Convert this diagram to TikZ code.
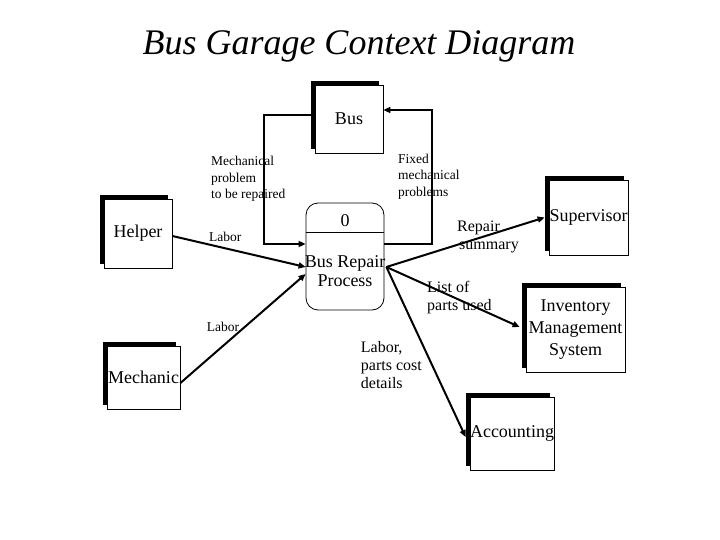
\documentclass[tikz,border=0pt]{standalone}
\usepackage{fontspec}
\setmainfont{Liberation Serif}
\usetikzlibrary{arrows.meta,shadows,calc}
\begin{document}
\begin{tikzpicture}[x=1pt,y=-1pt,
  ent/.style={draw=black, line width=0.8pt, fill=white, inner sep=0pt,
    font=\fontsize{18}{22}\selectfont, align=center,
    general shadow={fill=black, shadow xshift=-4pt, shadow yshift=4pt}},
  flow/.style={line width=2pt, -{Triangle[length=7pt,width=6pt]}},
  lbl/.style={inner sep=0pt, anchor=north west, align=left},
  small/.style={font=\fontsize{13.5}{16.7}\selectfont},
  mid/.style={font=\fontsize{16}{18.3}\selectfont}]
\useasboundingbox[fill=white] (0,0) rectangle (720,540);

% title
\node (title) [inner sep=0pt, anchor=base, font=\fontsize{36}{40}\selectfont\itshape] at (359,55) {Bus Garage Context Diagram};

% entities
\node (bus) [ent, minimum width=68pt, minimum height=68pt] at (349,119) {Bus};
\node (helper) [ent, minimum width=68pt, minimum height=69pt] at (138,233.5) {Helper};
\node (mech) [ent, minimum width=73pt, minimum height=63pt] at (143.5,377.5) {Mechanic};
\node (sup) [ent, minimum width=79pt, minimum height=75pt] at (588.5,217.5) {Supervisor};
\node (inv) [ent, minimum width=99pt, minimum height=85pt] at (575.5,329.5) {Inventory\\Management\\System};
\node (acc) [ent, minimum width=80pt, minimum height=73pt] at (512,433.5) {Accounting};

% process
\node (proc) [draw=black, line width=0.8pt, rounded corners=12pt, minimum width=78pt, minimum height=107pt, inner sep=0pt] at (345,256.5) {};
\coordinate (dv) at (0,232);
\draw[line width=0.8pt] (proc.west |- dv) -- (proc.east |- dv);
\node (pnum) [inner sep=0pt, font=\fontsize{18}{22}\selectfont] at (345,221) {0};
\node (pname) [inner sep=0pt, anchor=north, align=center, font=\fontsize{18}{18.7}\selectfont] at (345,255.7) {Bus Repair\\Process};

% bus loop
\coordinate (elbowL) at (264,244);
\coordinate (elbowR) at (432,244);
\draw[flow] ([yshift=4pt]bus.west) -| (elbowL) -- (proc.west |- elbowL);
\draw[flow] (proc.east |- elbowR) -- (elbowR) |- ([yshift=9pt]bus.east);

% inputs
\draw[flow] ([yshift=-2.5pt]helper.east) -- ([yshift=-10.5pt]proc.west);
\draw[flow] ([yshift=-5.5pt]mech.east) -- ([yshift=-17.5pt]proc.west);

% outputs
\coordinate (pout) at ([xshift=2pt,yshift=-10.5pt]proc.east);
\draw[flow] (pout) -- ([xshift=-4pt]sup.west);
\draw[flow] (pout) -- ([xshift=-6pt,yshift=2.5pt]inv.west);
\draw[flow] (pout) -- ([xshift=-4pt,yshift=-3.5pt]acc.west);

% labels
\node (lmech) [lbl, small] at (211,155.8) {Mechanical\\problem\\to be repaired};
\node (lfix) [lbl, small] at (398,153.5) {Fixed\\mechanical\\problems};
\node (llab1) [inner sep=0pt, anchor=base west, small] at (209,241.7) {Labor};
\node (llab2) [inner sep=0pt, anchor=base west, small] at (206.7,331.7) {Labor};
\node (lrep) [lbl, mid] at (457,220.8) {Repair\\\hspace*{2pt}summary};
\node (llist) [lbl, mid] at (427,280.8) {List of\\parts used};
\node (lcost) [lbl, mid] at (360.7,340.8) {Labor,\\parts cost\\details};
\end{tikzpicture}
\end{document}
